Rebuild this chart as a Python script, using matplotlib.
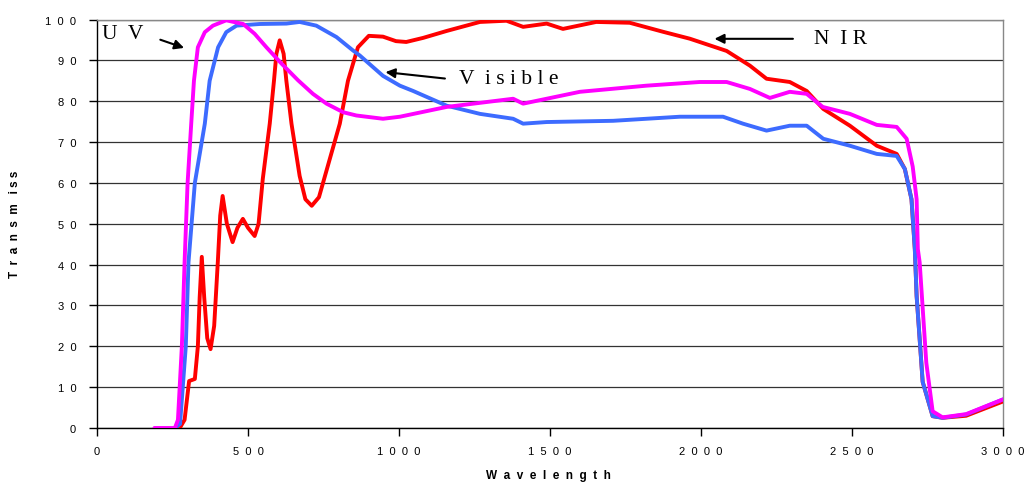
import matplotlib
matplotlib.use("Agg")
import matplotlib.pyplot as plt

# UV (magenta)
uv_x = [190, 258, 268, 281, 290, 300, 312, 321, 334, 357, 384, 428, 484, 522, 561, 611, 666, 715,
        760, 815, 859, 947, 1003, 1158, 1378, 1411, 1599, 1819, 1996, 2085, 2162, 2228, 2294, 2350,
        2403, 2493, 2582, 2648, 2681, 2701, 2714, 2718, 2724, 2746, 2767, 2800, 2878, 3000]
uv_y = [0, 0, 2, 20, 40.6, 60, 74.5, 85, 93.2, 96.9, 98.5, 99.8, 98.9, 96.5, 93.2, 89.2, 85.1, 81.8,
        79.4, 77.3, 76.5, 75.7, 76.2, 78.6, 80.6, 79.4, 82.3, 83.8, 84.7, 84.7, 83, 80.8, 82.3, 81.8,
        78.6, 76.9, 74.2, 73.7, 70.8, 64, 56, 43.8, 40.6, 16, 4.1, 2.6, 3.4, 7]

# Visible (blue)
vis_x = [258, 275, 294, 303, 324, 357, 373, 401, 428, 462, 539, 627, 671, 726, 793, 848, 870, 947,
         1003, 1047, 1158, 1268, 1378, 1411, 1489, 1709, 1930, 2073, 2139, 2217, 2294, 2350, 2405,
         2493, 2582, 2648, 2675, 2697, 2708, 2714, 2734, 2767, 2800, 2878, 3000]
vis_y = [0, 1, 20, 40.6, 60, 74.5, 85, 93.2, 96.9, 98.5, 98.9, 99, 99.4, 98.5, 95.7, 92.4, 91.2, 86.2,
         83.8, 82.5, 78.9, 76.9, 75.7, 74.5, 74.9, 75.2, 76.2, 76.2, 74.5, 72.8, 74, 74, 70.8,
         69.1, 67.1, 66.6, 63.4, 56, 43.8, 32.3, 11.3, 2.9, 2.5, 3.3, 7]

# NIR (red)
nir_x = [274, 290, 305, 324, 334, 340, 347, 355, 365, 376, 388, 400, 408, 416, 430, 449, 465, 483,
         500, 522, 535, 549, 572, 586, 594, 605, 618, 627, 644, 671, 690, 711, 735, 771, 804, 831,
         864, 900, 947, 990, 1024, 1080, 1158, 1268, 1356, 1411, 1489, 1543, 1653, 1764, 1874,
         1963, 2085, 2162, 2217, 2294, 2350, 2405, 2493, 2582, 2648, 2675, 2697, 2708, 2714, 2734,
         2767, 2800, 2878, 3000]
nir_y = [0, 2, 11.5, 12, 20, 32, 41.9, 32, 22, 19.3, 25, 40.6, 52, 56.8, 50, 45.5, 49, 51.2,
         49, 47, 50, 61, 74.5, 85, 91.6, 94.9, 91.6, 85, 74.5, 61.7, 56, 54.4, 56.5, 65.9, 74.5, 85,
         93.2, 96, 95.8, 94.7, 94.5, 95.5, 97.2, 99.4, 99.7, 98.2, 99, 97.7, 99.4, 99.2, 97,
         95.3, 92.3, 88.7, 85.5, 84.7, 82.5, 78.1, 74, 69.1, 67.1, 63.4, 56, 43.8, 32.3, 11.3,
         2.9, 2.5, 3.0, 6.5]

xticks = [0, 500, 1000, 1500, 2000, 2500, 3000]
yticks = [0, 10, 20, 30, 40, 50, 60, 70, 80, 90, 100]

def spaced(s, sep="  "):
    return sep.join(list(s))

fig = plt.figure(figsize=(10.24, 4.85), dpi=100)
ax = fig.add_axes([97/1024, 56/485, 906/1024, 408.5/485])

lw = 2.8
ax.plot(nir_x, nir_y, color="#FF0000", lw=lw, solid_joinstyle="round", solid_capstyle="round", zorder=3)
ax.plot(vis_x, vis_y, color="#3D6BFF", lw=lw, solid_joinstyle="round", solid_capstyle="round", zorder=4)
ax.plot(uv_x, uv_y, color="#FF00FF", lw=lw, solid_joinstyle="round", solid_capstyle="round", zorder=5)

ax.set_xlim(0, 3000)
ax.set_ylim(0, 100)
ax.set_xticks(xticks)
ax.set_xticklabels([spaced(str(t)) for t in xticks], fontfamily="Liberation Sans", fontsize=8)
ax.set_yticks(yticks)
ax.set_yticklabels([spaced(str(t)) for t in yticks], fontfamily="Liberation Sans", fontsize=8)
ax.tick_params(axis="both", direction="out", length=6, width=1, color="black")
ax.tick_params(axis="y", pad=9)
ax.tick_params(axis="x", pad=7)
ax.yaxis.grid(True, color="#333333", lw=0.9)
ax.set_axisbelow(True)
for s in ["left", "bottom"]:
    ax.spines[s].set_color("black")
    ax.spines[s].set_linewidth(1)
for s in ["top", "right"]:
    ax.spines[s].set_color("#888888")
    ax.spines[s].set_linewidth(1)

fig.text(548/1024, 1 - 476/485, "W  a  v  e  l  e  n  g  t  h", ha="center", va="center",
         fontsize=8.5, fontweight="bold", fontfamily="Liberation Sans")
fig.text(15/1024, 1 - 224/485, "T  r  a  n  s  m   i s s", ha="center", va="center", rotation=90,
         fontsize=8.5, fontweight="bold", fontfamily="Liberation Sans")

# annotations (data coords)
def px2d(px, py):
    return ((px - 97.3) / 0.302, (429 - py) / 4.083)

ax.text(*px2d(102, 35), "U  V", ha="left", va="center", fontsize=15.5,
        fontfamily="Liberation Serif", zorder=6)
ax.annotate("", xy=px2d(187, 50), xytext=px2d(158, 40),
            arrowprops=dict(arrowstyle="-|>", color="black", lw=1.5, mutation_scale=14), zorder=6)
ax.text(*px2d(459, 80), "V  i s i b l e", ha="left", va="center", fontsize=15.5,
        fontfamily="Liberation Serif", zorder=6)
ax.annotate("", xy=px2d(383, 73), xytext=px2d(448, 80),
            arrowprops=dict(arrowstyle="-|>", color="black", lw=1.5, mutation_scale=14), zorder=6)
ax.text(*px2d(814, 40), "N  I R", ha="left", va="center", fontsize=15.5,
        fontfamily="Liberation Serif", zorder=6)
ax.annotate("", xy=px2d(712, 40), xytext=px2d(796, 40),
            arrowprops=dict(arrowstyle="-|>", color="black", lw=1.5, mutation_scale=14), zorder=6)

fig.savefig("out.png", dpi=100)
